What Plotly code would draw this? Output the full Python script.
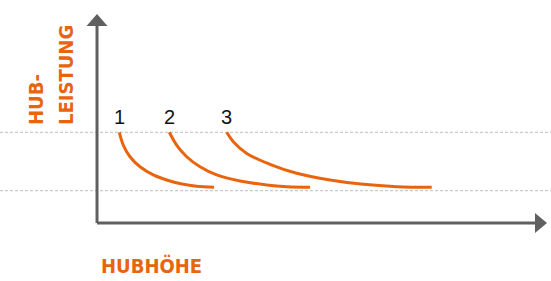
import plotly.graph_objects as go

# ---- data (relative units: x 0..100 along Hubhöhe, y 0..100 along Hub-Leistung) ----
curve_labels = ["1", "2", "3"]
curve1_x = [4.96, 5.84, 7.33, 9.56, 12.51, 15.47, 19.18, 22.13, 26.0]
curve1_y = [43.4, 37.3, 31.7, 26.9, 23.0, 20.6, 18.5, 17.6, 17.1]
curve2_x = [16.07, 17.69, 19.93, 22.89, 26.6, 31.78, 37.71, 42.16, 47.33]
curve2_y = [43.4, 37.3, 31.7, 26.9, 23.0, 20.1, 18.2, 17.4, 17.1]
curve3_x = [28.82, 30.29, 33.27, 38.44, 44.38, 51.78, 59.18, 66.6, 74.38]
curve3_y = [43.4, 38.9, 33.3, 28.1, 23.8, 20.6, 18.5, 17.4, 17.1]
reference_levels = [43.4, 15.45]
x_title = "HUBHÖHE"
y_title_lines = ["HUB-", "LEISTUNG"]

ORANGE = "#E8640F"
AXIS = "#606060"
GRID = "#BDBDBD"
TITLE_FONT = "Liberation Sans Narrow, Noto Sans Condensed, DejaVu Sans Condensed, Arial Narrow, sans-serif"

XR = [-21.56, 100.89]
YR = [-27.75, 106.7]

fig = go.Figure()
curves = [(curve1_x, curve1_y), (curve2_x, curve2_y), (curve3_x, curve3_y)]
for (cx, cy), lab in zip(curves, curve_labels):
    fig.add_trace(go.Scatter(x=cx, y=cy, mode="lines",
                             line=dict(color=ORANGE, width=3, shape="spline", smoothing=1.0),
                             hoverinfo="skip", showlegend=False))
    fig.add_annotation(x=cx[0], y=cy[0], text=lab, showarrow=False,
                       xanchor="center", yanchor="bottom", yshift=2,
                       font=dict(family="Liberation Sans, Arial, sans-serif", size=20, color="#111111"))

shapes = []
for lv in reference_levels:
    shapes.append(dict(type="line", xref="x", yref="y", x0=XR[0], x1=XR[1], y0=lv, y1=lv,
                       line=dict(color=GRID, width=1, dash="3px,2px"), layer="below"))
# axes
shapes.append(dict(type="line", xref="x", yref="y", x0=0, x1=97.8, y0=0, y1=0,
                   line=dict(color=AXIS, width=3)))
shapes.append(dict(type="line", xref="x", yref="y", x0=0, x1=0, y0=0, y1=95.2,
                   line=dict(color=AXIS, width=3)))
shapes.append(dict(type="path", xref="x", yref="y", xsizemode="pixel", ysizemode="pixel",
                   xanchor=100, yanchor=0, path="M0,0 L-12,10 L-12,-10 Z",
                   fillcolor=AXIS, line=dict(width=0)))
shapes.append(dict(type="path", xref="x", yref="y", xsizemode="pixel", ysizemode="pixel",
                   xanchor=0, yanchor=100, path="M0,0 L-10.5,-12 L10.5,-12 Z",
                   fillcolor=AXIS, line=dict(width=0)))

title_font = dict(family=TITLE_FONT, size=20, color=ORANGE, weight="bold")
fig.add_annotation(x=12, y=-20.6, text=x_title, showarrow=False, xanchor="center", yanchor="middle",
                   font=title_font)
for txt, xpos in zip(y_title_lines, [-13.56, -6.78]):
    fig.add_annotation(x=xpos, y=46.2, text=txt, showarrow=False, textangle=-90,
                       xanchor="center", yanchor="bottom", borderpad=0, font=title_font)

fig.update_layout(width=551, height=281, margin=dict(l=0, r=0, t=0, b=0, pad=0, autoexpand=False),
                  paper_bgcolor="white", plot_bgcolor="white", shapes=shapes,
                  xaxis=dict(range=XR, visible=False, fixedrange=True),
                  yaxis=dict(range=YR, visible=False, fixedrange=True))
fig.write_html("out.html", config={"displayModeBar": False},
               post_script="document.body.style.margin='0';document.body.style.overflow='hidden';")
